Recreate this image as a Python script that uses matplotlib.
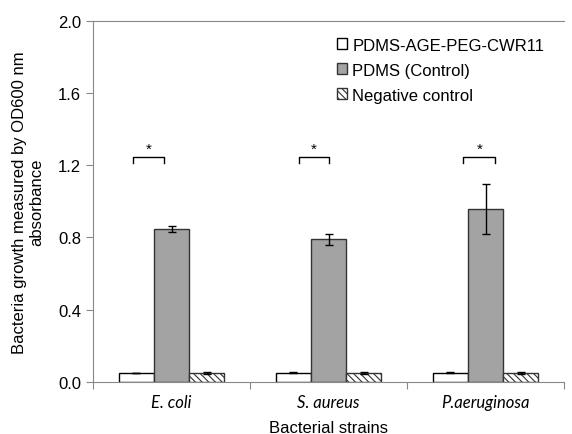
import numpy as np
import matplotlib.pyplot as plt

plt.rcParams['font.family'] = ['Liberation Sans', 'DejaVu Sans']
plt.rcParams['hatch.linewidth'] = 0.8

# Data
strains = ['E. coli', 'S. aureus', 'P.aeruginosa']
series = ['PDMS-AGE-PEG-CWR11', 'PDMS (Control)', 'Negative control']
coated = [0.050, 0.052, 0.052]
coated_err = [0.0, 0.003, 0.003]
pdms = [0.847, 0.790, 0.958]
pdms_err = [0.018, 0.030, 0.140]
negative = [0.050, 0.050, 0.050]
negative_err = [0.004, 0.003, 0.003]
yticks = [0.0, 0.4, 0.8, 1.2, 1.6, 2.0]

fig = plt.figure(figsize=(5.72, 4.35), dpi=100)
ax = fig.add_axes([93 / 572, 1 - 383 / 435, (564 - 93) / 572, (383 - 21.7) / 435])

x = np.arange(len(strains))
w = 0.223
ekw = dict(ecolor='black', elinewidth=1, capsize=3, capthick=1)
ax.bar(x - w, coated, w, yerr=coated_err, color='white', edgecolor='black',
       linewidth=1, label=series[0], error_kw=ekw)
ax.bar(x, pdms, w, yerr=pdms_err, color='#a3a3a3', edgecolor='#333333',
       linewidth=1, label=series[1], error_kw=ekw)
ax.bar(x + w, negative, w, yerr=negative_err, color='white', edgecolor='#333333',
       hatch='\\\\\\\\\\', linewidth=1, label=series[2], error_kw=ekw)

# significance brackets
br_left = [-0.245, -0.19, -0.141]
br_right = [-0.048, 0.0, 0.062]
for i in range(len(strains)):
    x0, x1 = i + br_left[i], i + br_right[i]
    ax.plot([x0, x0, x1, x1], [1.21, 1.243, 1.243, 1.21], color='black', lw=1)
    ax.text((x0 + x1) / 2, 1.255, '*', ha='center', va='bottom', fontsize=11)

ax.set_xlim(-0.5, 2.5)
ax.set_ylim(0, 2.0)
ax.set_yticks(yticks)
ax.set_yticklabels(['%.1f' % v for v in yticks], fontsize=12)
ax.set_xticks([-0.5, 0.5, 1.5, 2.5])
ax.set_xticklabels([])
ax.set_xticks(x, minor=True)
ax.set_xticklabels(strains, minor=True, style='italic', fontsize=12,
                   family=['Lato', 'DejaVu Sans'])
ax.tick_params(axis='x', which='minor', length=0, pad=9)
ax.tick_params(axis='x', which='major', length=5, color='#888888')
ax.tick_params(axis='y', length=5, color='#888888')

for s in ['left', 'bottom', 'top']:
    ax.spines[s].set_color('#888888')
ax.spines['right'].set_visible(False)

ax.set_ylabel('Bacteria growth measured by OD600 nm\nabsorbance', fontsize=12,
              labelpad=10)
ax.set_xlabel('Bacterial strains', fontsize=12, labelpad=7)

ax.legend(loc='upper right', bbox_to_anchor=(0.99, 0.995), frameon=False,
          fontsize=12, handlelength=0.6, handleheight=0.6, handletextpad=0.3,
          labelspacing=0.6)

fig.savefig('out.png', dpi=100)
